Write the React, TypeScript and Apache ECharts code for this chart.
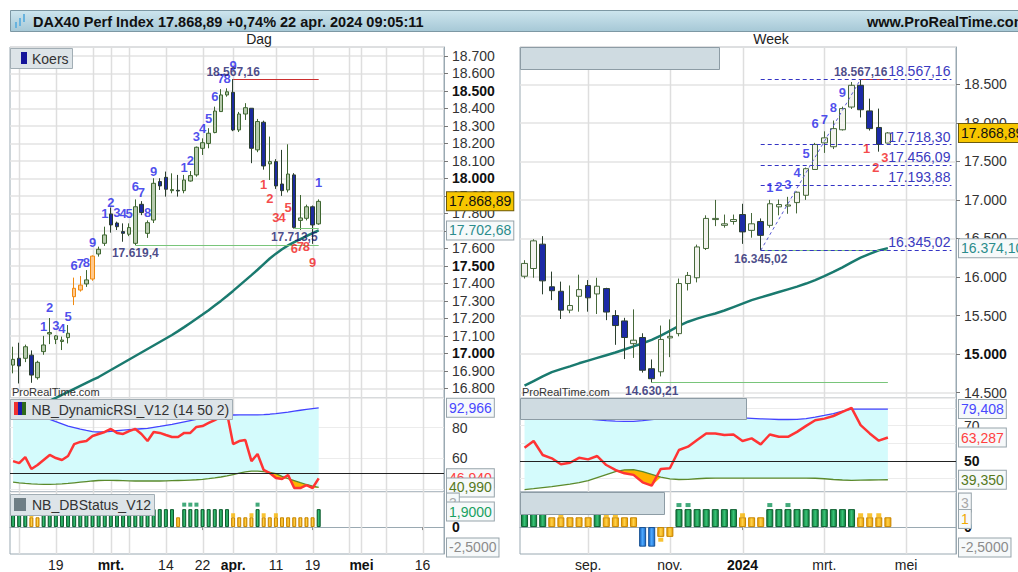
import React, { useEffect, useRef } from 'react';
import * as echarts from 'echarts';

const FONT = '"Liberation Sans", Arial, Helvetica, sans-serif';

// ---------------- DAILY (Dag) ----------------
const dayDates = [
  '2024-02-08', '2024-02-09', '2024-02-12', '2024-02-13', '2024-02-14', '2024-02-15', '2024-02-16',
  '2024-02-19', '2024-02-20', '2024-02-21', '2024-02-22', '2024-02-23', '2024-02-26', '2024-02-27',
  '2024-02-28', '2024-02-29', '2024-03-01', '2024-03-04', '2024-03-05', '2024-03-06', '2024-03-07',
  '2024-03-08', '2024-03-11', '2024-03-12', '2024-03-13', '2024-03-14', '2024-03-15', '2024-03-18',
  '2024-03-19', '2024-03-20', '2024-03-21', '2024-03-22', '2024-03-25', '2024-03-26', '2024-03-27',
  '2024-03-28', '2024-04-02', '2024-04-03', '2024-04-04', '2024-04-05', '2024-04-08', '2024-04-09',
  '2024-04-10', '2024-04-11', '2024-04-12', '2024-04-15', '2024-04-16', '2024-04-17', '2024-04-18',
  '2024-04-19', '2024-04-22',
  '2024-04-23', '2024-04-24', '2024-04-25', '2024-04-26', '2024-04-29', '2024-04-30', '2024-05-01',
  '2024-05-02', '2024-05-03', '2024-05-06', '2024-05-07', '2024-05-08', '2024-05-10', '2024-05-13',
  '2024-05-14', '2024-05-15', '2024-05-16', '2024-05-17', '2024-05-20', '2024-05-21',
];
const dayTickIdx = [7, 16, 25, 31, 36, 43, 49, 57, 67];
const dayTickText = ['19', 'mrt.', '14', '22', 'apr.', '11', '19', 'mei', '16'];
const dayTickBold = ['mrt.', 'apr.', 'mei'];
const dayGridIdx = [1, 7, 13, 16, 19, 25, 31, 36, 43, 49, 55, 57, 61, 67];

const dOpen = [16933, 16972, 16972, 16990, 16861, 17010, 17111, 17080, 17068, 17090, 17324, 17362, 17397, 17425, 17568, 17629, 17797, 17745, 17696, 17681, 17629, 17852, 17686, 17762, 17982, 18006, 17930, 17932, 17930, 17985, 18020, 18172, 18200, 18262, 18382, 18477, 18492, 18277, 18368, 18401, 18163, 18321, 18083, 18096, 17968, 17934, 18020, 17760, 17772, 17838, 17740];
const dClose = [16966, 16928, 17038, 16876, 16949, 17048, 17119, 17100, 17076, 17115, 17372, 17390, 17420, 17556, 17595, 17677, 17734, 17724, 17686, 17719, 17838, 17805, 17747, 17972, 17957, 17938, 17936, 17928, 17991, 18016, 18178, 18204, 18258, 18385, 18477, 18495, 18277, 18368, 18404, 18172, 18325, 18071, 18096, 17957, 17930, 18025, 17720, 17774, 17838, 17734, 17868.89];
const dLow = [16886, 16828, 16950, 16832, 16850, 16992, 17053, 17053, 17019, 17057, 17276, 17353, 17380, 17415, 17553, 17614, 17690, 17705, 17638, 17670, 17619.4, 17790, 17660, 17745, 17934, 17896, 17915, 17896, 17915, 17982, 18010, 18134, 18172, 18258, 18382, 18467, 18270, 18265, 18334, 18087, 18150, 18050, 17991, 17940, 17900, 17920, 17713.5, 17705, 17760, 17626, 17735];
const dHigh = [17038, 17061, 17050, 17017, 16958, 17100, 17202, 17105, 17096, 17162, 17433, 17442, 17476, 17560, 17610, 17724, 17834, 17753, 17743, 17743, 17880, 17870, 17760, 18001, 18001, 18039, 18029, 18020, 18020, 18042, 18182, 18229, 18287, 18410, 18510, 18515, 18567.16, 18380, 18430, 18401, 18340, 18330, 18239, 18110, 18163, 18195, 18030, 17905, 17850, 17845, 17880];
const dOrangeIdx = [10, 11, 13];
const dMA = [16630, 16647, 16664, 16681, 16698, 16714, 16730, 16746, 16763, 16780, 16797, 16814, 16831, 16848, 16865, 16885, 16905, 16925, 16945, 16965, 16985, 17005, 17025, 17045, 17065, 17085, 17105, 17127, 17150, 17174, 17198, 17222, 17247, 17273, 17300, 17328, 17357, 17387, 17417, 17447, 17478, 17510, 17542, 17570, 17595, 17617, 17636, 17653, 17670, 17687, 17702.68];

const dayHighLevel = 18567.16;
const dayHighIdx = 36;
const dayLowLevels = [17619.4, 17713.5];
const dayLowFrom = [20, 46];
const dayLastIdx = 50;

const daySeqBlue = [[5, 17151, '1'], [6, 17265, '2'], [7, 17162, '3'], [8, 17145, '4'], [9, 17213, '5'], [10, 17505, '6'], [11, 17516, '7'], [12, 17522, '8'], [13, 17631, '9'], [15, 17802, '1'], [16, 17865, '2'], [17, 17808, '3'], [18, 17802, '4'], [19, 17802, '5'], [20, 17951, '6'], [21, 17922, '7'], [22, 17808, '8'], [23, 18037, '9'], [28, 18060, '1'], [29, 18100, '2'], [30, 18237, '3'], [31, 18283, '4'], [32, 18345, '5'], [33, 18466, '6'], [34, 18569, '7'], [35, 18569, '8'], [36, 18643, '9'], [50, 17974, '1']];
const daySeqRed = [[41, 17968, '1'], [42, 17888, '2'], [43, 17774, '3'], [44, 17774, '4'], [45, 17831, '5'], [46, 17602, '6'], [47, 17608, '7'], [48, 17608, '8'], [49, 17522, '9']];
const dayValueTags = [[36, 18608, '18.567,16'], [20, 17574, '17.619,4'], [46, 17667, '17.713,5']];

const rsiDayRed = [58.2, 56.9, 60.8, 53.0, 55.6, 58.9, 62.2, 60.2, 58.9, 61.5, 69.3, 70.7, 71.3, 74.6, 75.9, 77.2, 79.2, 76.6, 75.9, 77.8, 79.2, 75.9, 71.3, 77.2, 76.6, 75.2, 73.9, 73.9, 76.6, 76.6, 80.5, 81.1, 83.1, 85.0, 87.0, 89.6, 69.3, 71.3, 71.9, 58.2, 62.8, 52.4, 50.4, 47.1, 46.5, 49.1, 40.6, 40.6, 42.5, 40.6, 46.94];
const rsiDayBlue = [98, 96, 94, 92, 90, 87.5, 85.5, 84, 82.5, 81, 80, 79, 78.2, 77.5, 77.2, 77.3, 77.6, 78, 78.4, 78.7, 79, 79.3, 79.6, 80.2, 80.8, 81.5, 82.2, 83, 83.8, 84.6, 85.4, 86.1, 86.8, 87.4, 87.9, 88.2, 88.3, 88.4, 88.4, 88.4, 88.4, 88.5, 88.8, 89.2, 89.7, 90.2, 90.8, 91.4, 92, 92.5, 92.966];
const rsiDayGreen = [44.5, 44.0, 43.6, 43.3, 43.1, 43.0, 43.0, 43.1, 43.3, 43.6, 44.0, 44.4, 44.8, 45.2, 45.5, 45.6, 45.6, 45.5, 45.4, 45.3, 45.2, 45.2, 45.2, 45.2, 45.2, 45.3, 45.4, 45.5, 45.6, 45.8, 46.0, 46.3, 46.7, 47.2, 47.8, 48.5, 49.4, 50.3, 51.1, 51.6, 51.6, 51.3, 50.8, 50.0, 48.2, 46.8, 45.5, 44.1, 42.9, 41.9, 40.99];

const dbDayValues = [2.2, 2.2, 2.2, 1.2, 1.2, 2.2, 2.2, 2.2, 2.2, 2.2, 2.2, 2.2, 2.2, 2.2, 2.2, 2.2, 2.2, 2.2, 2.2, 2.2, 2.2, 2.2, 2.2, 2.2, 2.2, 2.2, 2.2, 1.2, 2.2, 2.2, 2.2, 2.2, 2.2, 2.2, 2.2, 2.2, 1.2, 1.2, 1.2, 1.2, 2.2, 1.2, 1.2, 1.2, 1.2, 1.2, 1.2, 1.2, 1.2, 1.2, 2.2];
const dbDayDots = [28, 29, 30, 40];
const dbDayMarks = [3, 36, 39, 41, 43];

// ---------------- WEEKLY (Week) ----------------
const weekDates = [
  '2023-07-17', '2023-07-24', '2023-07-31', '2023-08-07', '2023-08-14', '2023-08-21', '2023-08-28',
  '2023-09-04', '2023-09-11', '2023-09-18', '2023-09-25', '2023-10-02', '2023-10-09', '2023-10-16',
  '2023-10-23', '2023-10-30', '2023-11-06', '2023-11-13', '2023-11-20', '2023-11-27', '2023-12-04',
  '2023-12-11', '2023-12-18', '2023-12-25', '2024-01-01', '2024-01-08', '2024-01-15', '2024-01-22',
  '2024-01-29', '2024-02-05', '2024-02-12', '2024-02-19', '2024-02-26', '2024-03-04', '2024-03-11',
  '2024-03-18', '2024-03-25', '2024-04-01', '2024-04-08', '2024-04-15', '2024-04-22', '2024-04-29',
  '2024-05-06', '2024-05-13', '2024-05-20', '2024-05-27', '2024-06-03', '2024-06-10',
];
const weekTickIdx = [7, 16, 24, 33, 42];
const weekTickText = ['sep.', 'nov.', '2024', 'mrt.', 'mei'];
const weekTickBold = ['2024'];
const weekGridIdx = [7, 16, 24, 33, 42];

const wOpen = [16010, 16110, 16426, 15873, 15815, 15570, 15750, 15890, 15780, 15850, 15500, 15430, 15135, 15215, 14810, 14770, 15210, 15265, 15915, 15990, 16370, 16745, 16670, 16720, 16810, 16605, 16720, 16670, 16910, 16920, 16965, 17060, 17395, 17740, 17690, 17910, 18205, 18487, 18155, 17940, 17737];
const wClose = [16176, 16469, 15950, 15822, 15570, 15630, 15836, 15730, 15880, 15545, 15370, 15215, 15180, 14790, 14680, 15190, 15230, 15915, 16020, 16390, 16760, 16760, 16690, 16745, 16585, 16690, 16540, 16950, 16940, 16935, 17100, 17405, 17720, 17805, 17925, 18185, 18487, 18170, 17925, 17720, 17868.89];
const wLow = [15980, 15990, 15775, 15700, 15455, 15530, 15550, 15550, 15520, 15440, 15120, 14935, 14950, 14760, 14630.21, 14710, 14960, 15230, 15825, 15930, 16350, 16660, 16640, 16680, 16430, 16510, 16345.02, 16640, 16800, 16820, 16825, 17000, 17390, 17610, 17660, 17900, 18180, 18070, 17900, 17626, 17735];
const wHigh = [16218, 16490, 16530, 16070, 15940, 15890, 16030, 15960, 15990, 15860, 15570, 15470, 15580, 15270, 14930, 15370, 15450, 15980, 16065, 16420, 16800, 17000, 16810, 16810, 16950, 16830, 16760, 17000, 17005, 17040, 17110, 17420, 17740, 17890, 18030, 18210, 18530, 18567.16, 18314, 18185, 17880];
const wMA = [14590, 14650, 14710, 14765, 14805, 14840, 14880, 14915, 14950, 14985, 15020, 15060, 15100, 15140, 15185, 15240, 15300, 15365, 15420, 15460, 15495, 15527, 15565, 15610, 15655, 15700, 15735, 15770, 15805, 15840, 15875, 15915, 15960, 16010, 16065, 16125, 16190, 16250, 16300, 16345, 16374.1];

const weekFibLevels = [18567.16, 17718.30, 17456.09, 17193.88, 16345.02];
const weekFibFrom = 26;
const weekFibTo = 47;
const weekSwingLowIdx = 26;
const weekSwingHighIdx = 37;
const weekLowLevel = 14630.21;
const weekLowIdx = 14;
const weekLastIdx = 40;

const weekSeqBlue = [[27, 17156, '1'], [28, 17178, '2'], [29, 17204, '3'], [30, 17359, '4'], [31, 17606, '5'], [32, 17994, '6'], [33, 18046, '7'], [34, 18202, '8'], [35, 18396, '9']];
const weekSeqRed = [[38, 17670, '1'], [39, 17424, '2'], [40, 17554, '3']];
const weekValueTags = [[37, 18655, '18.567,16'], [26, 16231, '16.345,02'], [14, 14520, '14.630,21']];

const rsiWeekRed = [57.5, 61.3, 53.4, 51.5, 48.1, 49.0, 51.8, 50.9, 52.8, 47.7, 44.9, 43.0, 42.1, 37.9, 36.0, 45.5, 45.9, 56.2, 58.1, 61.9, 65.6, 65.6, 64.7, 65.0, 61.3, 62.8, 59.4, 65.0, 63.7, 63.7, 66.5, 69.9, 73.1, 74.0, 75.5, 77.8, 80.1, 70.3, 65.6, 61.5, 63.287];
const rsiWeekBlue = [79, 78.3, 77.5, 76.7, 75.9, 75.1, 74.4, 73.8, 73.3, 72.9, 72.6, 72.4, 72.5, 72.9, 73.5, 74.0, 74.3, 74.5, 74.6, 74.6, 74.6, 74.6, 74.6, 74.5, 74.4, 74.2, 73.9, 73.7, 73.5, 73.5, 73.6, 74.0, 74.8, 75.8, 76.9, 78.2, 79.4, 79.408, 79.408, 79.408, 79.408];
const rsiWeekGreen = [33.8, 34.3, 34.9, 35.5, 36.2, 36.9, 37.7, 38.9, 40.6, 42.3, 44.0, 45.0, 45.1, 44.0, 42.4, 40.8, 39.8, 39.5, 39.6, 39.9, 40.2, 40.3, 40.3, 40.3, 40.3, 40.3, 40.3, 40.3, 40.3, 40.3, 40.3, 40.3, 40.2, 39.9, 39.5, 39.2, 39.0, 39.1, 39.2, 39.3, 39.35];

const dbWeekValues = [2.2, 2.2, 2.2, 1.2, 1.2, 1.2, 1.2, 1.2, 2.2, 1.2, 1.2, 1.2, 1.2, -2.4, -2.4, -1.2, -1.2, 2.2, 2.2, 2.2, 2.2, 2.2, 2.2, 2.2, 1.2, 1.2, 1.2, 2.2, 2.2, 2.2, 2.2, 2.2, 2.2, 2.2, 2.2, 2.2, 2.2, 1.2, 1.2, 1.2, 1.2];
const dbWeekDots = [17, 18, 27, 29];
const dbWeekMarks = [4, 9, 10, 24, 37, 38, 39];
const dbWeekMarksNeg = [15];

// axis ranges
const dayPriceRange = [16745, 18751];
const weekPriceRange = [14430, 18984];
const dayRsiRange = [38, 99.4];
const weekRsiRange = [32.4, 85.7];
const dbRange = [-3.3, 4.3];

// ---------------- helpers ----------------
function fmt(v: number, dec: number): string {
  const neg = v < 0;
  const s = Math.abs(v).toFixed(dec);
  const parts = s.split('.');
  const ip = parts[0].replace(/\B(?=(\d{3})+(?!\d))/g, '.');
  return (neg ? '-' : '') + ip + (parts[1] ? ',' + parts[1] : '');
}

const BORDER = '#9aa9b2';
const GRIDLINE = '#e3e3e3';
const NOLINE = { color: 'rgba(0,0,0,0)', width: 0 };

function axisBox(value: number, text: string, color: string, bg = '#f6f9fa', border = '#97a4ab') {
  return {
    yAxis: value,
    lineStyle: NOLINE,
    label: {
      show: true, position: 'end', distance: 3, formatter: text, color,
      backgroundColor: bg, borderColor: border, borderWidth: 1,
      padding: [2, 2, 1, 2], fontSize: 14, fontFamily: FONT, lineHeight: 15,
    },
  };
}

function xAxisFor(gridIndex: number, cats: string[], show: boolean, tickIdx: number[], tickText: string[], bold: string[]) {
  const map = new Map<number, string>();
  tickIdx.forEach((i, k) => map.set(i, tickText[k]));
  return {
    type: 'category', gridIndex, data: cats, boundaryGap: true,
    axisLine: { show, lineStyle: { color: BORDER } },
    axisTick: { show, alignWithLabel: true, length: 3, interval: (i: number) => map.has(i), lineStyle: { color: '#777' } },
    axisLabel: {
      show, margin: 4, fontSize: 14, color: '#222', fontFamily: FONT,
      interval: (i: number) => map.has(i),
      formatter: (_v: string, i: number) => {
        const t = map.get(i) || '';
        return bold.indexOf(t) >= 0 ? `{b|${t}}` : t;
      },
      rich: { b: { fontWeight: 'bold', fontSize: 14, fontFamily: FONT, color: '#111' } },
    },
    splitLine: { show: false },
  };
}

function seg(x1: number, y1: number, x2: number, y2: number, lineStyle: any, label: any = { show: false }) {
  return [
    { coord: [x1, y1], lineStyle, label },
    { coord: [x2, y2], lineStyle, label },
  ];
}

function levelSeries(axisIdx: number, segs: any[], z = 6) {
  return {
    type: 'line', xAxisIndex: axisIdx, yAxisIndex: axisIdx, data: [], silent: true, z,
    markLine: { silent: true, symbol: ['none', 'none'], z, animation: false, label: { show: false }, data: segs },
  };
}

function textScatter(axisIdx: number, data: any[], color: string, fontSize: number, weight: string, offset: number[] = [0, 0]) {
  return {
    type: 'scatter', xAxisIndex: axisIdx, yAxisIndex: axisIdx, data, symbolSize: 1, silent: true, z: 6,
    itemStyle: { color: 'transparent' },
    label: {
      show: true, position: 'inside', offset, color, fontSize, fontWeight: weight, fontFamily: FONT,
      formatter: (p: any) => p.data[2],
    },
  };
}

const gradGreen = new echarts.graphic.LinearGradient(0, 0, 1, 0, [
  { offset: 0, color: '#0f7a3c' }, { offset: 0.5, color: '#38c477' }, { offset: 1, color: '#0f7a3c' },
]);
const gradOrange = new echarts.graphic.LinearGradient(0, 0, 1, 0, [
  { offset: 0, color: '#e69c00' }, { offset: 0.5, color: '#ffd24a' }, { offset: 1, color: '#e69c00' },
]);
const gradBlue = new echarts.graphic.LinearGradient(0, 0, 1, 0, [
  { offset: 0, color: '#1a66c4' }, { offset: 0.5, color: '#4eaaff' }, { offset: 1, color: '#1a66c4' },
]);

function dbItem(v: number) {
  if (v >= 2) return { value: v, itemStyle: { color: gradGreen, borderColor: '#0b5e2e', borderWidth: 1 } };
  if (v <= -2) return { value: v, itemStyle: { color: gradBlue, borderColor: '#154f92', borderWidth: 1 } };
  return { value: v, itemStyle: { color: gradOrange, borderColor: '#c88600', borderWidth: 1 } };
}

function rsiSeries(axisIdx: number, red: number[], blue: number[], green: number[], tag: string) {
  return [
    { type: 'line', xAxisIndex: axisIdx, yAxisIndex: axisIdx, stack: 'cy' + tag, data: green, showSymbol: false, silent: true, lineStyle: { width: 0 }, z: 2 },
    { type: 'line', xAxisIndex: axisIdx, yAxisIndex: axisIdx, stack: 'cy' + tag, data: blue.map((b, i) => b - green[i]), showSymbol: false, silent: true, lineStyle: { width: 0 }, areaStyle: { color: '#d4fbfc', opacity: 1 }, z: 2 },
    { type: 'line', xAxisIndex: axisIdx, yAxisIndex: axisIdx, stack: 'or' + tag, data: red.map((r, i) => Math.min(r, green[i])), showSymbol: false, silent: true, lineStyle: { width: 0 }, z: 3 },
    { type: 'line', xAxisIndex: axisIdx, yAxisIndex: axisIdx, stack: 'or' + tag, data: green.map((g, i) => Math.max(0, g - red[i])), showSymbol: false, silent: true, lineStyle: { width: 0 }, areaStyle: { color: '#ffb300', opacity: 1 }, z: 3 },
    { type: 'line', xAxisIndex: axisIdx, yAxisIndex: axisIdx, data: green, showSymbol: false, silent: true, lineStyle: { color: '#5b8a2c', width: 1.3 }, z: 4 },
    { type: 'line', xAxisIndex: axisIdx, yAxisIndex: axisIdx, data: blue, showSymbol: false, silent: true, lineStyle: { color: '#4343ff', width: 1.3 }, z: 4 },
    { type: 'line', xAxisIndex: axisIdx, yAxisIndex: axisIdx, data: red, showSymbol: false, silent: true, lineStyle: { color: '#ff3434', width: 2.5 }, z: 5 },
  ];
}

// panes: axis index, vertical grid categories, value range
const paneGrid = [
  { ax: 0, idxs: dayGridIdx, range: dayPriceRange },
  { ax: 1, idxs: dayGridIdx, range: dayRsiRange },
  { ax: 2, idxs: dayGridIdx, range: dbRange },
  { ax: 3, idxs: weekGridIdx, range: weekPriceRange },
  { ax: 4, idxs: weekGridIdx, range: weekRsiRange },
  { ax: 5, idxs: weekGridIdx, range: dbRange },
];

function buildOption() {
  const grids = [
    { left: 10, top: 47, width: 434, height: 351 },
    { left: 10, top: 398, width: 434, height: 94 },
    { left: 10, top: 492, width: 434, height: 63 },
    { left: 520, top: 47, width: 436, height: 351 },
    { left: 520, top: 398, width: 436, height: 94 },
    { left: 520, top: 492, width: 436, height: 63 },
  ].map((g) => ({ ...g, show: true, borderColor: BORDER, borderWidth: 1, backgroundColor: 'transparent' }));

  const xAxis = [
    xAxisFor(0, dayDates, false, dayTickIdx, dayTickText, dayTickBold),
    xAxisFor(1, dayDates, false, dayTickIdx, dayTickText, dayTickBold),
    xAxisFor(2, dayDates, true, dayTickIdx, dayTickText, dayTickBold),
    xAxisFor(3, weekDates, false, weekTickIdx, weekTickText, weekTickBold),
    xAxisFor(4, weekDates, false, weekTickIdx, weekTickText, weekTickBold),
    xAxisFor(5, weekDates, true, weekTickIdx, weekTickText, weekTickBold),
  ];

  const lblBase = { margin: 8, fontSize: 14, color: '#333', fontFamily: FONT, showMinLabel: false, showMaxLabel: false, rich: { b: { fontWeight: 'bold', fontSize: 14, fontFamily: FONT, color: '#111' } } };
  const axLine = { show: true, lineStyle: { color: BORDER } };
  const axTick = { show: true, length: 4, lineStyle: { color: '#777' } };

  const yAxis = [
    {
      type: 'value', gridIndex: 0, position: 'right', min: dayPriceRange[0], max: dayPriceRange[1], minInterval: 100, maxInterval: 100, splitNumber: 20,
      axisLine: axLine, axisTick: axTick,
      axisLabel: { ...lblBase, formatter: (v: number) => (v % 500 === 0 ? `{b|${fmt(v, 0)}}` : fmt(v, 0)) },
      splitLine: { show: true, lineStyle: { color: GRIDLINE, width: 1.5 } },
    },
    {
      type: 'value', gridIndex: 1, position: 'right', min: dayRsiRange[0], max: dayRsiRange[1], minInterval: 20, maxInterval: 20, splitNumber: 3,
      axisLine: axLine, axisTick: { ...axTick, show: false },
      axisLabel: { ...lblBase, formatter: (v: number) => (v === 60 || v === 80 ? String(v) : '') },
      splitLine: { show: true, lineStyle: { color: '#ececec', width: 1 } },
    },
    {
      type: 'value', gridIndex: 2, position: 'right', min: dbRange[0], max: dbRange[1], minInterval: 1, maxInterval: 1, splitNumber: 7,
      axisLine: axLine, axisTick: { show: false },
      axisLabel: { ...lblBase, formatter: (v: number) => (v === 0 ? '{b|0}' : '') },
      splitLine: { show: false },
    },
    {
      type: 'value', gridIndex: 3, position: 'right', min: weekPriceRange[0], max: weekPriceRange[1], minInterval: 500, maxInterval: 500, splitNumber: 10,
      axisLine: axLine, axisTick: axTick,
      axisLabel: { ...lblBase, formatter: (v: number) => (v % 5000 === 0 ? `{b|${fmt(v, 0)}}` : fmt(v, 0)) },
      splitLine: { show: true, lineStyle: { color: GRIDLINE, width: 1.5 } },
    },
    {
      type: 'value', gridIndex: 4, position: 'right', min: weekRsiRange[0], max: weekRsiRange[1], minInterval: 10, maxInterval: 10, splitNumber: 5,
      axisLine: axLine, axisTick: { ...axTick, show: false },
      axisLabel: { ...lblBase, formatter: (v: number) => (v === 70 ? '70' : v === 50 ? '{b|50}' : '') },
      splitLine: { show: true, lineStyle: { color: '#ececec', width: 1 } },
    },
    {
      type: 'value', gridIndex: 5, position: 'right', min: dbRange[0], max: dbRange[1], minInterval: 1, maxInterval: 1, splitNumber: 7,
      axisLine: axLine, axisTick: { show: false },
      axisLabel: { ...lblBase, formatter: (v: number) => (v === 0 ? '{b|0}' : '') },
      splitLine: { show: false },
    },
  ];

  const series: any[] = [];

  // ---------- daily price ----------
  const orangeStyle = { color: '#ffc98e', color0: '#ffc98e', borderColor: '#f08a10', borderColor0: '#f08a10' };
  series.push({
    type: 'candlestick', xAxisIndex: 0, yAxisIndex: 0, barWidth: 4, z: 5, silent: true,
    itemStyle: { color: '#b7cbae', color0: '#1c2a9e', borderColor: '#3e6630', borderColor0: '#2b3f2e', borderWidth: 1 },
    data: dOpen.map((o, i) => {
      const item: any = { value: [o, dClose[i], dLow[i], dHigh[i]] };
      if (dOrangeIdx.indexOf(i) >= 0) item.itemStyle = orangeStyle;
      return item;
    }),
    markLine: {
      silent: true, symbol: ['none', 'none'], animation: false, z: 7,
      data: [axisBox(dClose[dayLastIdx], fmt(dClose[dayLastIdx], 2), '#111', '#f7c600', '#6b5a10')],
    },
  });
  series.push({
    type: 'line', xAxisIndex: 0, yAxisIndex: 0, data: dMA, showSymbol: false, silent: true, z: 5,
    lineStyle: { color: '#1a7a6f', width: 2.5 },
    markLine: {
      silent: true, symbol: ['none', 'none'], animation: false, z: 7,
      data: [axisBox(dMA[dayLastIdx], fmt(dMA[dayLastIdx], 2), '#2a8c8c')],
    },
  });
  series.push(levelSeries(0, [
    seg(dayHighIdx, dayHighLevel, dayLastIdx, dayHighLevel, { color: '#cc2f2f', width: 1, type: 'solid' }),
    seg(dayLowFrom[0], dayLowLevels[0], dayLastIdx, dayLowLevels[0], { color: '#79c57a', width: 1, type: 'solid' }),
    seg(dayLowFrom[1], dayLowLevels[1], dayLastIdx, dayLowLevels[1], { color: '#79c57a', width: 1, type: 'solid' }),
  ]));
  series.push(textScatter(0, daySeqBlue, '#1f1fe8', 13, 'bold'));
  series.push(textScatter(0, daySeqRed, '#f21a1a', 13, 'bold'));
  series.push(textScatter(0, dayValueTags, '#1c1c6c', 12, 'bold'));

  // ---------- daily RSI ----------
  const dRsi = rsiSeries(1, rsiDayRed, rsiDayBlue, rsiDayGreen, 'd');
  dRsi[6].markLine = {
    silent: true, symbol: ['none', 'none'], animation: false, z: 7,
    data: [
      { yAxis: 50, lineStyle: { color: '#222', width: 1, type: 'solid' }, label: { show: false } },
      axisBox(rsiDayBlue[dayLastIdx], fmt(rsiDayBlue[dayLastIdx], 3), '#4848ff'),
      axisBox(rsiDayRed[dayLastIdx], fmt(rsiDayRed[dayLastIdx], 3), '#ff4040'),
      axisBox(rsiDayGreen[dayLastIdx], fmt(rsiDayGreen[dayLastIdx], 3), '#55781c'),
    ],
  };
  series.push(...dRsi);

  // ---------- daily DBStatus ----------
  series.push({
    type: 'bar', xAxisIndex: 2, yAxisIndex: 2, barWidth: 4, silent: true, z: 5,
    data: dbDayValues.map(dbItem),
  });
  series.push({
    type: 'scatter', xAxisIndex: 2, yAxisIndex: 2, symbol: 'rect', symbolSize: [4, 4], silent: true, z: 6,
    itemStyle: { color: '#14955a' }, data: dbDayDots.map((i) => [i, 2.75]),
    markLine: {
      silent: true, symbol: ['none', 'none'], animation: false, z: 7,
      data: [
        axisBox(3, '3', '#a8a8a8'),
        axisBox(1.9, '1,9000', '#18a060'),
        axisBox(-2.5, '-2,5000', '#8c8c8c'),
      ],
    },
  });
  series.push({
    type: 'scatter', xAxisIndex: 2, yAxisIndex: 2, symbol: 'rect', symbolSize: [4, 4], silent: true, z: 6,
    itemStyle: { color: '#f6b400' }, data: dbDayMarks.map((i) => [i, 1.45]),
  });

  // ---------- weekly price ----------
  series.push({
    type: 'candlestick', xAxisIndex: 3, yAxisIndex: 3, barWidth: 6, z: 5, silent: true,
    itemStyle: { color: '#f3f3ef', color0: '#1c2aa6', borderColor: '#46683a', borderColor0: '#2b3f2e', borderWidth: 1 },
    data: wOpen.map((o, i) => [o, wClose[i], wLow[i], wHigh[i]]),
    markLine: {
      silent: true, symbol: ['none', 'none'], animation: false, z: 7,
      data: [axisBox(wClose[weekLastIdx], fmt(wClose[weekLastIdx], 2), '#111', '#f7c600', '#6b5a10')],
    },
  });
  series.push({
    type: 'line', xAxisIndex: 3, yAxisIndex: 3, data: wMA, showSymbol: false, silent: true, z: 5,
    lineStyle: { color: '#1a7a6f', width: 2.5 },
    markLine: {
      silent: true, symbol: ['none', 'none'], animation: false, z: 7,
      data: [axisBox(wMA[weekLastIdx], fmt(wMA[weekLastIdx], 2), '#2a8c8c')],
    },
  });
  const fibStyle = { color: '#3434c4', width: 1, type: [4, 3] };
  const fibLabel = (t: string) => ({ show: true, position: 'insideEndTop', distance: 1, formatter: t, color: '#3a3ac0', fontSize: 14, fontFamily: FONT });
  series.push(levelSeries(3, [
    seg(weekLowIdx, weekLowLevel, weekLastIdx, weekLowLevel, { color: '#79c57a', width: 1, type: 'solid' }),
    seg(weekSwingLowIdx, weekFibLevels[4], weekLastIdx, weekFibLevels[4], { color: '#79c57a', width: 1, type: 'solid' }),
    seg(weekSwingHighIdx, weekFibLevels[0], weekLastIdx, weekFibLevels[0], { color: '#cc2f2f', width: 1, type: 'solid' }),
    ...weekFibLevels.map((lv) => seg(weekFibFrom, lv, weekFibTo, lv, fibStyle, fibLabel(fmt(lv, 2)))),
    seg(weekSwingLowIdx, weekFibLevels[4], weekSwingHighIdx, weekFibLevels[0], { color: '#5a5ad6', width: 1, type: [3, 3] }),
  ]));
  series.push(textScatter(3, weekSeqBlue, '#1f1fe8', 13, 'bold'));
  series.push(textScatter(3, weekSeqRed, '#f21a1a', 13, 'bold', [-3, 0]));
  series.push(textScatter(3, weekValueTags, '#1c1c6c', 12, 'bold'));

  // ---------- weekly RSI ----------
  const wRsi = rsiSeries(4, rsiWeekRed, rsiWeekBlue, rsiWeekGreen, 'w');
  wRsi[6].markLine = {
    silent: true, symbol: ['none', 'none'], animation: false, z: 7,
    data: [
      { yAxis: 50, lineStyle: { color: '#222', width: 1, type: 'solid' }, label: { show: false } },
      axisBox(rsiWeekBlue[weekLastIdx], fmt(rsiWeekBlue[weekLastIdx], 3), '#4848ff'),
      axisBox(rsiWeekRed[weekLastIdx], fmt(rsiWeekRed[weekLastIdx], 3), '#ff4040'),
      axisBox(rsiWeekGreen[weekLastIdx], fmt(rsiWeekGreen[weekLastIdx], 3), '#55781c'),
    ],
  };
  series.push(...wRsi);

  // ---------- weekly DBStatus ----------
  series.push({
    type: 'bar', xAxisIndex: 5, yAxisIndex: 5, barWidth: 7, silent: true, z: 5,
    data: dbWeekValues.map(dbItem),
  });
  series.push({
    type: 'scatter', xAxisIndex: 5, yAxisIndex: 5, symbol: 'rect', symbolSize: [5, 4], silent: true, z: 6,
    itemStyle: { color: '#14955a' }, data: dbWeekDots.map((i) => [i, 2.7]),
    markLine: {
      silent: true, symbol: ['none', 'none'], animation: false, z: 7,
      data: [
        axisBox(3, '3', '#a8a8a8'),
        axisBox(1, '1', '#f0a800'),
        axisBox(-2.5, '-2,5000', '#8c8c8c'),
      ],
    },
  });
  series.push({
    type: 'scatter', xAxisIndex: 5, yAxisIndex: 5, symbol: 'rect', symbolSize: [5, 4], silent: true, z: 6,
    itemStyle: { color: '#f6b400' }, data: [...dbWeekMarks.map((i) => [i, 1.45]), ...dbWeekMarksNeg.map((i) => [i, -1.55])],
  });

  // ---------- decorations ----------
  const hdrGrad = new echarts.graphic.LinearGradient(0, 0, 0, 1, [
    { offset: 0, color: '#cde5ee' }, { offset: 1, color: '#a6c8d6' },
  ]);
  const legendFill = '#dde4e8';
  const legendStroke = '#a2aeb5';
  const grayBox = '#cfdbe1';
  const grayStroke = '#8d9ca5';
  let uid = 0;
  const txt = (x: number, y: number, text: string, extra: any = {}) => ({
    type: 'text', id: 'deco' + (uid++), x, y, z: 101,
    style: { text, fontSize: 14, fontFamily: FONT, fill: '#333', verticalAlign: 'middle', ...extra },
  });
  const rect = (x: number, y: number, w: number, h: number, fill: any, stroke?: string) => ({
    type: 'rect', id: 'deco' + (uid++), z: 100, shape: { x, y, width: w, height: h },
    style: { fill, stroke: stroke || null, lineWidth: 1 },
  });
  const elements = [
    rect(10.5, 10.5, 1010, 21, hdrGrad, '#7d98a4'),
    rect(15, 22, 2, 6, '#68b3de'), rect(19, 18, 2, 8, '#68b3de'), rect(23, 14, 2, 8, '#68b3de'),
    txt(33, 22, 'DAX40 Perf Index 17.868,89 +0,74% 22 apr. 2024 09:05:11', { fontSize: 14.5, fontWeight: 'bold', fill: '#111' }),
    txt(867, 22, 'www.ProRealTime.com', { fontSize: 14.5, fontWeight: 'bold', fill: '#111' }),
    txt(259, 39, 'Dag', { align: 'center', fill: '#222' }),
    txt(771, 39, 'Week', { align: 'center', fill: '#222' }),
    // left legends
    rect(10.5, 48.5, 62, 20, legendFill, legendStroke),
    rect(21, 52, 6, 12, '#15159a'),
    txt(32, 58.5, 'Koers'),
    rect(10.5, 399.5, 222, 20, legendFill, legendStroke),
    rect(14, 402, 4, 13, '#f03030'), rect(18, 402, 4, 13, '#1a1aa8'), rect(22, 402, 4, 13, '#2f6a1c'),
    txt(31.5, 409.5, 'NB_DynamicRSI_V12 (14 50 2)'),
    rect(10.5, 494.5, 144, 21, legendFill, legendStroke),
    rect(14, 498, 12, 13, '#6f7f86'),
    txt(32, 505, 'NB_DBStatus_V12'),
    txt(12, 392, 'ProRealTime.com', { fontSize: 11 }),
    // right gray boxes
    rect(520.5, 47.5, 199, 22, grayBox, grayStroke),
    rect(520.5, 398.5, 226, 21, grayBox, grayStroke),
    rect(520.5, 492.5, 144, 22, grayBox, grayStroke),
    txt(522, 392, 'ProRealTime.com', { fontSize: 11 }),
  ];

  return {
    animation: false,
    backgroundColor: '#fff',
    textStyle: { fontFamily: FONT },
    grid: grids,
    xAxis,
    yAxis,
    series,
    graphic: { elements },
  };
}

// vertical grid lines placed through the chart's own category / value scales
function addVerticalGrid(chart: any) {
  const lines: any[] = [];
  paneGrid.forEach((p) => {
    const yTop = chart.convertToPixel({ yAxisIndex: p.ax }, p.range[1]);
    const yBot = chart.convertToPixel({ yAxisIndex: p.ax }, p.range[0]);
    p.idxs.forEach((i) => {
      const x = chart.convertToPixel({ xAxisIndex: p.ax }, i);
      if (typeof x !== 'number' || isNaN(x) || typeof yTop !== 'number' || isNaN(yTop)) return;
      const xx = Math.round(x) + 0.5;
      lines.push({
        type: 'line', id: `vg_${p.ax}_${i}`, z: 1, silent: true,
        shape: { x1: xx, y1: yTop, x2: xx, y2: yBot },
        style: { stroke: '#dedede', lineWidth: 1.5 },
      });
    });
  });
  if (lines.length) chart.setOption({ graphic: { elements: lines } });
}

export default function App() {
  const ref = useRef<HTMLDivElement>(null);
  useEffect(() => {
    if (!ref.current) return;
    const chart = echarts.init(ref.current, undefined, { renderer: 'svg' });
    chart.setOption(buildOption() as any);
    try {
      addVerticalGrid(chart);
    } catch (e) {
      // keep the chart even if the grid lines cannot be placed
    }
    return () => chart.dispose();
  }, []);
  return (
    <div
      ref={ref}
      style={{ position: 'fixed', left: 0, top: 0, width: 1018, height: 572, background: '#fff' }}
    />
  );
}
